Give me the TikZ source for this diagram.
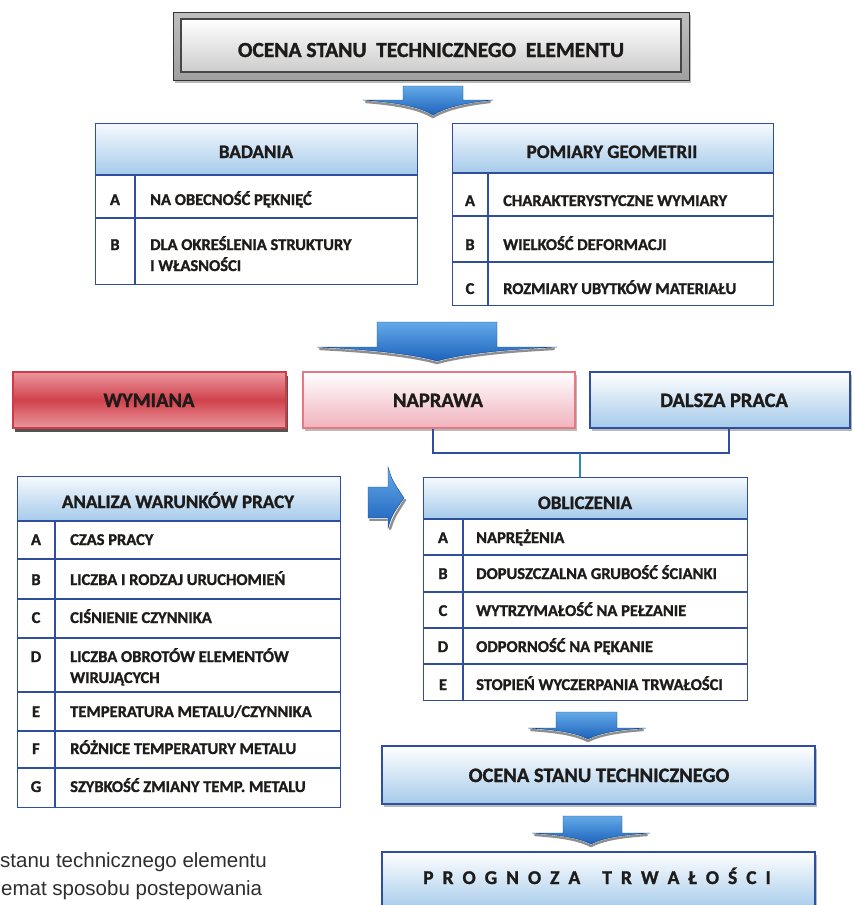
\documentclass[tikz,border=0pt]{standalone}
\usepackage{fontspec}
\setmainfont{Carlito}[BoldFont={Carlito Bold},BoldFeatures={FakeBold=1.3}]
\newfontfamily\capfont{Liberation Sans}
\usetikzlibrary{shadows}
\definecolor{tblue}{RGB}{48,78,160}
\definecolor{hdlight}{RGB}{246,250,254}
\definecolor{hdblue}{RGB}{165,202,234}
\definecolor{txt}{RGB}{30,28,26}
\definecolor{arrtop}{RGB}{100,170,232}
\definecolor{arrbot}{RGB}{28,98,188}
\definecolor{redmid}{RGB}{208,66,76}
\definecolor{redlt}{RGB}{236,150,158}
\definecolor{redbd}{RGB}{205,60,70}
\definecolor{pinkbd}{RGB}{228,120,132}
\definecolor{pinklt}{RGB}{240,178,188}
\definecolor{tealline}{RGB}{40,140,180}
\newcommand{\lsgap}{\kern9pt}
\begin{document}
\begin{tikzpicture}[x=1pt,y=-1pt,
  tframe/.style={draw=tblue,line width=1.4pt,inner sep=0pt,anchor=north west},
  tline/.style={draw=tblue,line width=1.2pt},
  hdrfill/.style={top color=hdlight,bottom color=hdblue,draw=none,inner sep=0pt,anchor=north west},
  htxt/.style={font=\bfseries\fontsize{19}{22}\selectfont,text=txt,inner sep=0pt,anchor=base},
  ltxt/.style={font=\bfseries\fontsize{16.5}{21}\selectfont,text=txt,inner sep=0pt,anchor=base},
  ctxt/.style={font=\bfseries\fontsize{16.5}{21}\selectfont,text=txt,inner sep=0pt,anchor=base west},
  btxt/.style={font=\bfseries\fontsize{20.5}{24}\selectfont,text=txt,inner sep=0pt,anchor=base},
  arrowbody/.style={top color=arrtop,bottom color=arrbot,draw=arrbot!70!black,line width=.4pt},
  arrowshade/.style={draw=black!80,line width=2.4pt,opacity=.55,line cap=round},
  softshadow/.style={drop shadow={shadow xshift=2pt,shadow yshift=-3pt,fill=black!60,opacity=.45}},
  darkshadow/.style={drop shadow={shadow xshift=2pt,shadow yshift=-4pt,fill=black!90,opacity=.75}},
  bluebox/.style={draw=tblue,line width=1.4pt,top color=white,bottom color=hdblue,inner sep=0pt,softshadow},
  captxt/.style={font=\capfont\fontsize{20.5}{28}\selectfont,text=black!82,inner sep=0pt,anchor=base west}
]
\useasboundingbox (0,0) rectangle (853,905);
\clip (0,0) rectangle (853,905);

% ---------- title ----------
\node[draw=gray!40!black,line width=1pt,top color=gray!50,bottom color=gray!75,minimum width=516,minimum height=68,inner sep=0pt,softshadow] (titleo) at (431,46) {};
\node[draw=gray!55!black,line width=1.5pt,top color=white,bottom color=gray!40,minimum width=500,minimum height=53,inner sep=0pt] (titlei) at (431,45.5) {};
\node[font=\bfseries\fontsize{21.5}{24}\selectfont,text=txt,inner sep=0pt,anchor=base] (title) at (431,57) {OCENA STANU\ \ TECHNICZNEGO\ \ ELEMENTU};

% ---------- arrow 1 ----------
\draw[arrowshade] (366,102) .. controls (404,105) and (421,110) .. (433,117) .. controls (445,110) and (462,105) .. (490,102);
\path[arrowbody] (403,86) -- (463,86) -- (463,100) -- (493,100) .. controls (462,103) and (445,108) .. (433,115) .. controls (421,108) and (404,103) .. (363,100) -- (403,100) -- cycle;

% ---------- BADANIA ----------
\node[hdrfill,minimum width=322,minimum height=52] (badh) at (95,123) {};
\node[tframe,minimum width=322,minimum height=161] (bad) at (95,123) {};
\draw[tline] (95,175) -- (417,175);
\draw[tline] (95,218) -- (417,218);
\draw[tline] (135,175) -- (135,284);
\node[htxt] (badt) at (256,158) {BADANIA};
\node[ltxt] (bada) at (115,205) {A};
\node[ctxt] (badat) at (150,205) {NA OBECNOŚĆ PĘKNIĘĆ};
\node[ltxt] (badb) at (115,250) {B};
\node[ctxt] (badbt) at (150,250) {\parbox[t]{260pt}{DLA OKREŚLENIA STRUKTURY\\I WŁASNOŚCI}};

% ---------- POMIARY GEOMETRII ----------
\node[hdrfill,minimum width=321,minimum height=50] (pomh) at (452,123) {};
\node[tframe,minimum width=321,minimum height=182] (pom) at (452,123) {};
\draw[tline] (452,173) -- (773,173);
\draw[tline] (452,216) -- (773,216);
\draw[tline] (452,262) -- (773,262);
\draw[tline] (488,173) -- (488,305);
\node[htxt] (pomt) at (612,158) {POMIARY GEOMETRII};
\node[ltxt] (poma) at (470,206) {A};
\node[ctxt] (pomat) at (503,206) {CHARAKTERYSTYCZNE WYMIARY};
\node[ltxt] (pomb) at (470,250) {B};
\node[ctxt] (pombt) at (503,250) {WIELKOŚĆ DEFORMACJI};
\node[ltxt] (pomc) at (470,294) {C};
\node[ctxt] (pomct) at (503,294) {ROZMIARY UBYTKÓW MATERIAŁU};

% ---------- arrow 2 ----------
\draw[arrowshade] (320,349) .. controls (380,352) and (415,357) .. (437,363) .. controls (459,357) and (494,352) .. (554,349);
\path[arrowbody] (377,322) -- (497,322) -- (497,347) -- (557,347) .. controls (494,350) and (459,355) .. (437,361) .. controls (415,355) and (380,350) .. (317,347) -- (377,347) -- cycle;

% ---------- decision boxes ----------
\node[draw=redbd,line width=1.2pt,minimum width=273,minimum height=56,inner sep=0pt,darkshadow,
      top color=redlt,bottom color=redlt,middle color=redmid] (wym) at (149.5,400) {};
\node[btxt] (wymt) at (149,407) {WYMIANA};
\node[draw=pinkbd,line width=1.2pt,minimum width=272,minimum height=56,inner sep=0pt,softshadow,
      top color=white,bottom color=pinklt] (nap) at (439,400) {};
\node[btxt] (napt) at (438,407) {NAPRAWA};
\node[bluebox,minimum width=260,minimum height=56] (dal) at (720,400) {};
\node[btxt] (dalt) at (724,407) {DALSZA PRACA};

% ---------- connectors ----------
\coordinate (bl) at (433,453);
\coordinate (br) at (729,453);
\coordinate (bm) at (580,453);
\draw[tline] (nap.south -| bl) -- (bl) -- (br) -- (dal.south -| br);

% ---------- ANALIZA WARUNKÓW PRACY ----------
\node[hdrfill,minimum width=323,minimum height=45] (anah) at (17,476) {};
\node[tframe,minimum width=323,minimum height=331] (ana) at (17,476) {};
\draw[tline] (17,521) -- (340,521);
\draw[tline] (17,559) -- (340,559);
\draw[tline] (17,599) -- (340,599);
\draw[tline] (17,638) -- (340,638);
\draw[tline] (17,692) -- (340,692);
\draw[tline] (17,731) -- (340,731);
\draw[tline] (17,768) -- (340,768);
\draw[tline] (55,521) -- (55,807);
\node[htxt] (anat) at (178,508) {ANALIZA WARUNKÓW PRACY};
\node[ltxt] (anaa) at (36,545) {A};
\node[ctxt] (anaat) at (70,545) {CZAS PRACY};
\node[ltxt] (anab) at (36,585) {B};
\node[ctxt] (anabt) at (70,585) {LICZBA I RODZAJ URUCHOMIEŃ};
\node[ltxt] (anac) at (36,623) {C};
\node[ctxt] (anact) at (70,623) {CIŚNIENIE CZYNNIKA};
\node[ltxt] (anad) at (36,662) {D};
\node[ctxt] (anadt) at (70,662) {\parbox[t]{260pt}{LICZBA OBROTÓW ELEMENTÓW\\WIRUJĄCYCH}};
\node[ltxt] (anae) at (36,717) {E};
\node[ctxt] (anaet) at (70,717) {TEMPERATURA\ METALU/CZYNNIKA};
\node[ltxt] (anaf) at (36,754) {F};
\node[ctxt] (anaft) at (70,754) {RÓŻNICE TEMPERATURY METALU};
\node[ltxt] (anag) at (36,792) {G};
\node[ctxt] (anagt) at (70,792) {SZYBKOŚĆ ZMIANY TEMP. METALU};

% ---------- right arrow ----------
\draw[arrowshade] (370,520) -- (387,520);
\draw[arrowshade] (390,529) .. controls (394,517) .. (405,500);
\path[arrowbody] (368,487) -- (388,487) -- (388,467) .. controls (392,480) .. (404,498) .. controls (392,515) .. (388,528) -- (388,518) -- (368,518) -- cycle;

% ---------- OBLICZENIA ----------
\node[hdrfill,minimum width=324,minimum height=42] (oblh) at (423,477) {};
\node[tframe,minimum width=324,minimum height=223] (obl) at (423,477) {};
\draw[tline] (423,519) -- (747,519);
\draw[tline] (423,555) -- (747,555);
\draw[tline] (423,592) -- (747,592);
\draw[tline] (423,628) -- (747,628);
\draw[tline] (423,664) -- (747,664);
\draw[tline] (463,519) -- (463,700);
\node[htxt] (oblt) at (585,509) {OBLICZENIA};
\node[ltxt] (obla) at (443,543) {A};
\node[ctxt] (oblat) at (476,543) {NAPRĘŻENIA};
\node[ltxt] (oblb) at (443,579) {B};
\node[ctxt] (oblbt) at (476,579) {DOPUSZCZALNA GRUBOŚĆ ŚCIANKI};
\node[ltxt] (oblc) at (443,616) {C};
\node[ctxt] (oblct) at (476,616) {WYTRZYMAŁOŚĆ NA PEŁZANIE};
\node[ltxt] (obld) at (443,652) {D};
\node[ctxt] (obldt) at (476,652) {ODPORNOŚĆ NA PĘKANIE};
\node[ltxt] (oble) at (443,690) {E};
\node[ctxt] (oblet) at (476,690) {STOPIEŃ WYCZERPANIA TRWAŁOŚCI};

\draw[draw=tealline,line width=1.3pt] (bm) -- (obl.north -| bm);

% ---------- arrow 3 ----------
\draw[arrowshade] (531,730) .. controls (560,732) and (576,735) .. (588,741) .. controls (600,735) and (616,732) .. (643,730);
\path[arrowbody] (556,712) -- (617,712) -- (617,728) -- (646,728) .. controls (616,730) and (600,733) .. (588,739) .. controls (576,733) and (560,730) .. (528,728) -- (556,728) -- cycle;

% ---------- OCENA STANU TECHNICZNEGO ----------
\node[bluebox,minimum width=433,minimum height=58] (ocena) at (598.5,775) {};
\node[btxt] (ocenat) at (599,782) {OCENA STANU TECHNICZNEGO};

% ---------- arrow 4 ----------
\draw[arrowshade] (535,835) .. controls (564,837) and (579,840) .. (591,846) .. controls (603,840) and (618,837) .. (647,835);
\path[arrowbody] (563,816) -- (622,816) -- (622,833) -- (650,833) .. controls (620,835) and (603,838) .. (591,844) .. controls (579,838) and (562,835) .. (532,833) -- (563,833) -- cycle;

% ---------- PROGNOZA TRWAŁOŚCI ----------
\node[bluebox,minimum width=433,minimum height=58] (prog) at (598.5,881) {};
\node[font=\bfseries\fontsize{19.5}{24}\selectfont,text=txt,inner sep=0pt,anchor=base] (progt) at (597,884)
  {P\lsgap R\lsgap O\lsgap G\lsgap N\lsgap O\lsgap Z\lsgap A\kern22pt T\lsgap R\lsgap W\lsgap A\lsgap Ł\lsgap O\lsgap Ś\lsgap C\lsgap I};

% ---------- caption fragment ----------
\node[captxt] (cap1) at (0,867) {stanu technicznego elementu};
\node[captxt] (cap2) at (1,895) {emat sposobu postepowania};
\end{tikzpicture}
\end{document}
